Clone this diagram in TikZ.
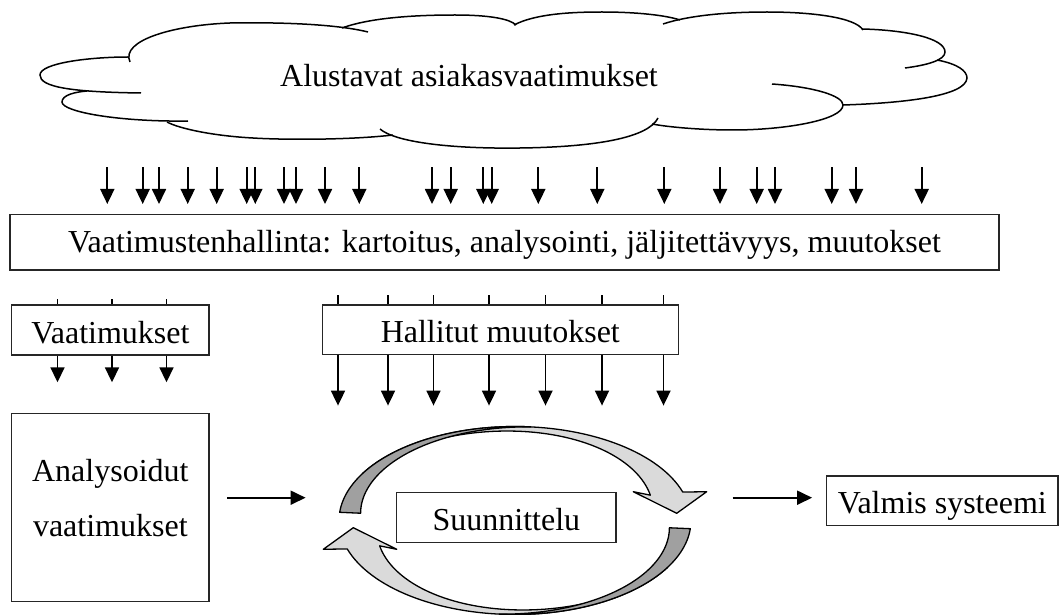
\documentclass[tikz,border=0pt]{standalone}
\usepackage{fontspec}
\setmainfont{Liberation Serif}
\usetikzlibrary{arrows.meta,calc}
\definecolor{bandDark}{RGB}{160,160,160}
\definecolor{bandLight}{RGB}{218,218,218}
\begin{document}
\begin{tikzpicture}[x=1pt,y=-1pt,
  box/.style={draw=black!85, line width=1.2pt, inner sep=0pt, fill=white,
    font=\fontsize{32}{38}\selectfont},
  txt/.style={inner sep=0pt, font=\fontsize{32}{38}\selectfont},
  arr/.style={line width=1.8pt, -{Triangle[length=15pt,width=14pt]}},
  tk/.style={line width=1.5pt},
  cloudline/.style={line width=1.5pt},
  band/.style={draw=black, line width=1.3pt, line join=round}]
\useasboundingbox (0,0) rectangle (1061,615);

% cloud
\draw[cloudline] (141,93) .. controls (70,92) and (40,87) .. (40,75) .. controls (40,63) and (90,57) .. (128,57);
\draw[cloudline] (130,62) .. controls (120,40) and (175,25) .. (230,23) .. controls (290,22) and (340,25) .. (368,32);
\draw[cloudline] (342,28) .. controls (372,17) and (420,15) .. (455,15) .. controls (490,15) and (510,19) .. (516,25);
\draw[cloudline] (514,25) .. controls (535,14) and (570,12) .. (602,12) .. controls (635,12) and (665,15) .. (680,20);
\draw[cloudline] (663,24) .. controls (690,15) and (730,12) .. (767,12) .. controls (810,12) and (855,17) .. (863,30);
\draw[cloudline] (862,29) .. controls (905,30) and (945,38) .. (945,52) .. controls (945,60) and (928,65) .. (905,68);
\draw[cloudline] (937,60) .. controls (958,64) and (967,71) .. (967,78) .. controls (966,96) and (905,103) .. (843,105);
\draw[cloudline] (772,84) .. controls (815,87) and (843,96) .. (843,105) .. controls (843,120) and (785,130) .. (733,130) .. controls (700,130) and (668,127) .. (652,124);
\draw[cloudline] (658,118) .. controls (648,138) and (595,147) .. (520,148) .. controls (450,149) and (395,142) .. (380,129);
\draw[cloudline] (393,135) .. controls (350,140) and (285,140) .. (253,138) .. controls (215,136) and (180,129) .. (167,122);
\draw[cloudline] (188,121) .. controls (120,122) and (62,112) .. (62,102) .. controls (62,95) and (75,92) .. (87,91);
\node[txt, anchor=base] (cloudtext) at (469,86.7) {Alustavat asiakasvaatimukset};

% main box
\node[box, minimum width=989pt, minimum height=55.3pt, text height=22pt, text depth=2.7pt]
  (main) at (504.5,242.35) {Vaatimustenhallinta: kartoitus, analysointi, jäljitettävyys, muutokset};

% arrows from the cloud
\foreach \xx [count=\i] in {107.3,142.7,159,187.7,216.7,246.7,255.3,284,296,325,359.3,432,450.7,483.3,491.7,538.3,597.3,664.3,720,756.7,775,831.7,856,921.7}{
  \coordinate (ta\i) at (\xx,167.3);
  \coordinate (tb\i) at (\xx,204);
  \draw[arr] (ta\i) -- (tb\i);
}

% Vaatimukset
\node[box, minimum width=197.3pt, minimum height=50pt, text height=26.6pt, text depth=0pt]
  (vaat) at (110.35,330) {Vaatimukset};
\foreach \xx in {57.5,112,166.5}{
  \draw[tk] (vaat.north -| \xx,0) -- ++(0,-5);
  \draw[arr] (vaat.south -| \xx,0) -- ++(0,26.7);
}

% Hallitut muutokset
\node[box, minimum width=356pt, minimum height=49.3pt, text height=26pt, text depth=0pt]
  (hall) at (500.3,329.65) {Hallitut muutokset};
\foreach \xx in {338,388,433.5,489,545.5,602,663.5}{
  \draw[tk] (hall.north -| \xx,0) -- ++(0,-9);
  \draw[arr] (hall.south -| \xx,0) -- ++(0,50.7);
}

% Analysoidut vaatimukset
\node[box, minimum width=197.3pt, minimum height=188.4pt] (anb) at (110.35,507.5) {};
\node[txt, anchor=base] (ant1) at (110.35,481.7) {Analysoidut};
\node[txt, anchor=base] (ant2) at (110.35,536.7) {vaatimukset};

% cycle arrows
\begin{scope}
  \filldraw[band, fill=bandLight]
    plot[domain=150:17.6, samples=60] ({515+176*cos(\x)},{520.5-94*sin(\x)})
    -- (706.7,491.7) -- (676.7,513.3) -- (633.3,491.7)
    -- plot[domain=17.6:150, samples=60] ({515+(176-34*(150-\x)/132.4)*cos(\x)},{520.5-(94-0.3*34*(150-\x)/132.4)*sin(\x)})
    -- cycle;
  \filldraw[band, fill=bandDark]
    plot[domain=175:85, samples=50] ({515+176*cos(\x)},{520.5-94*sin(\x)})
    -- plot[domain=85:175, samples=50] ({515+(176-21*(\x-85)/90)*cos(\x)},{520.5-(94-0.5*21*(\x-85)/90)*sin(\x)})
    -- cycle;
\end{scope}
\begin{scope}[rotate around={180:(515,520.5)}]
  \filldraw[band, fill=bandLight]
    plot[domain=150:17.6, samples=60] ({515+176*cos(\x)},{520.5-94*sin(\x)})
    -- (706.7,491.7) -- (676.7,513.3) -- (633.3,491.7)
    -- plot[domain=17.6:150, samples=60] ({515+(176-34*(150-\x)/132.4)*cos(\x)},{520.5-(94-0.3*34*(150-\x)/132.4)*sin(\x)})
    -- cycle;
  \filldraw[band, fill=bandDark]
    plot[domain=175:85, samples=50] ({515+176*cos(\x)},{520.5-94*sin(\x)})
    -- plot[domain=85:175, samples=50] ({515+(176-21*(\x-85)/90)*cos(\x)},{520.5-(94-0.5*21*(\x-85)/90)*sin(\x)})
    -- cycle;
\end{scope}

% Suunnittelu
\node[box, minimum width=219.3pt, minimum height=50pt, text height=25.4pt, text depth=0pt]
  (suun) at (506.35,517.3) {Suunnittelu};

% Valmis systeemi
\node[box, minimum width=231.3pt, minimum height=49.7pt, text height=24.3pt, text depth=0pt]
  (valm) at (942.35,500.85) {Valmis systeemi};

% horizontal arrows
\draw[arr] ([shift={(17.7,-9.8)}]anb.east) -- ([shift={(96,-9.8)}]anb.east);
\draw[arr] ([shift={(-93.4,-3.15)}]valm.west) -- ([shift={(-14,-3.15)}]valm.west);
\end{tikzpicture}
\end{document}
